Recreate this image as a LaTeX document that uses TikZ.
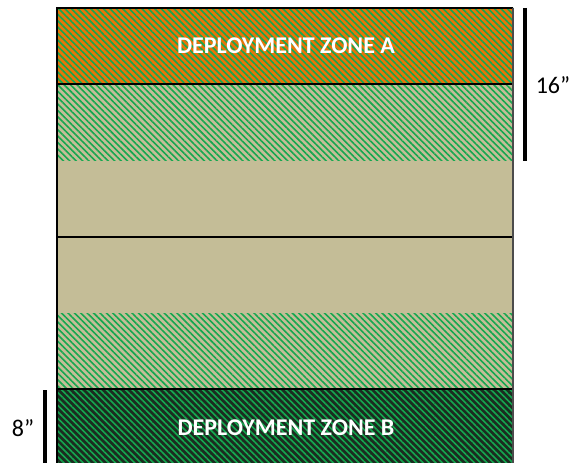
\documentclass[tikz,border=0pt]{standalone}
\usepackage{fontspec}
\setmainfont{Carlito}
\usetikzlibrary{patterns.meta}
\definecolor{zoneorange}{RGB}{232,116,8}
\definecolor{stripegreen}{RGB}{20,168,80}
\definecolor{boardtan}{RGB}{196,189,151}
\definecolor{darkbase}{RGB}{28,44,32}
\tikzset{
  stripes/.style={pattern={Lines[angle=-45,distance=3.4pt,line width=1.2pt]},pattern color=stripegreen},
  zonelabel/.style={text=white,font=\bfseries\fontsize{18}{20}\selectfont},
  dimlabel/.style={font=\fontsize{18}{20}\selectfont},
  dimbar/.style={line width=2.6pt}
}
\begin{document}
\begin{tikzpicture}[x=0.75pt,y=-0.75pt]
              \useasboundingbox (0,0) rectangle (581,463);
              % zones
              \fill[zoneorange] (57,8) rectangle (513,84);
              \fill[stripes] (57,8) rectangle (513,84);
              \fill[boardtan] (57,84) rectangle (513,389);
              \fill[stripes] (57,84) rectangle (513,161);
              \fill[stripes] (57,313) rectangle (513,389);
              \fill[darkbase] (57,389) rectangle (513,463);
              \fill[stripes] (57,389) rectangle (513,463);
              \draw[line width=0.8pt] (57,84) -- (513,84);
              \draw[line width=0.8pt] (57,237) -- (513,237);
              \draw[line width=0.8pt] (57,389) -- (513,389);
              \draw[line width=1.5pt] (57,463) -- (57,8) -- (513,8);
              \draw[line width=0.9pt,black!70] (513,8) -- (513,463);
              \node[zonelabel] (zA) at (286,46) {DEPLOYMENT ZONE A};
              \node[zonelabel] (zB) at (286,428) {DEPLOYMENT ZONE B};
              % measurements
              \coordinate (t16) at (525,8);
              \coordinate (b16) at (525,161);
              \coordinate (t8) at (45,390);
              \coordinate (b8) at (45,463);
              \draw[dimbar] (t16) -- (b16);
              \draw[dimbar] (t8) -- (b8);
              \node[dimlabel] (l16) at (553,85) {16”};
              \node[dimlabel] (l8) at (23,428) {8”};
          \end{tikzpicture}
\end{document}
